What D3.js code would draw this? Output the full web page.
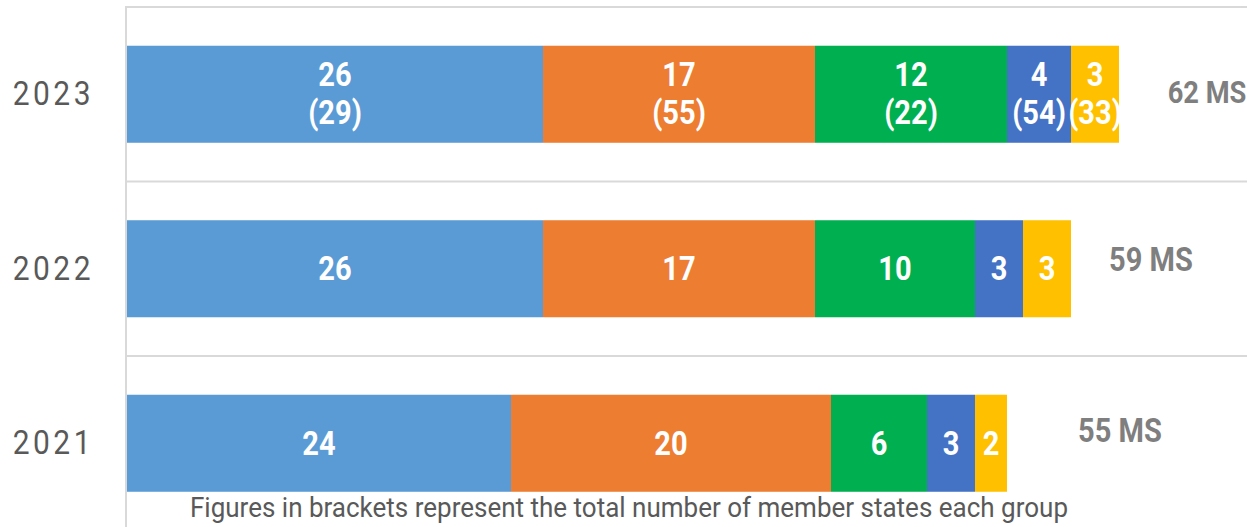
<!DOCTYPE html>
<html>
<head>
<meta charset="utf-8">
<script src="https://cdn.jsdelivr.net/npm/d3@7"></script>
<style>
	body { margin: 0; background: #fff; }
	svg { display: block; }
	text { font-family: Roboto, "Open Sans", sans-serif; }
</style>
</head>
<body>
<div id="chart"></div>
<script>
// Data
var years = ["2023", "2022", "2021"];
var counts2023 = [26, 17, 12, 4, 3];
var counts2022 = [26, 17, 10, 3, 3];
var counts2021 = [24, 20, 6, 3, 2];
var members2023 = [29, 55, 22, 54, 33];   // figures in brackets
var groupColors = ["#5B9BD5", "#ED7D31", "#00B050", "#4472C4", "#FFC000"];
var footnote = "Figures in brackets represent the total number of member states each group";

var rows = [
	{year: "2023", counts: counts2023, members: members2023},
	{year: "2022", counts: counts2022, members: null},
	{year: "2021", counts: counts2021, members: null}
];

// Layout only: where the "MS" total boxes sit relative to bar end / band centre
var msOffset = {"2023": [88, -3], "2022": [80, -9], "2021": [113, -13]};

var width = 1258, height = 527;
var condense = 0.88;   // stand-in for a condensed face

var svg = d3.select("#chart")
	.append("svg")
	.attr("width", width)
	.attr("height", height);

var x = d3.scaleLinear()
	.domain([0, 70])
	.range([127, 1247]);

var y = d3.scaleBand()
	.domain(years)
	.range([7, 7 + 174.5 * 3])
	.paddingInner(0.444)
	.paddingOuter(0.222);

// horizontal band separators
var step = y.step();
svg.append("g")
	.selectAll("line")
	.data(years)
	.join("line")
	.attr("x1", x(0))
	.attr("x2", x(70))
	.attr("y1", d => y(d) - y.paddingOuter() * step)
	.attr("y2", d => y(d) - y.paddingOuter() * step)
	.attr("stroke", "#d9d9d9")
	.attr("stroke-width", 2);

// stacked segments
var stacked = rows.map(r => {
	let acc = 0;
	return r.counts.map((v, i) => {
		let seg = {year: r.year, i: i, v: v, x0: acc, x1: acc + v,
			m: r.members ? r.members[i] : null};
		acc += v;
		return seg;
	});
});
var segs = stacked.flat();

svg.append("g")
	.selectAll("rect")
	.data(segs)
	.join("rect")
	.attr("x", d => x(d.x0))
	.attr("width", d => x(d.x1) - x(d.x0))
	.attr("y", d => y(d.year))
	.attr("height", y.bandwidth())
	.attr("fill", d => groupColors[d.i]);

// vertical axis line
svg.append("line")
	.attr("x1", x(0) - 1).attr("x2", x(0) - 1)
	.attr("y1", 6).attr("y2", height)
	.attr("stroke", "#d9d9d9")
	.attr("stroke-width", 2);

// segment labels
var labelG = svg.append("g")
	.selectAll("g")
	.data(segs)
	.join("g")
	.attr("transform", d => `translate(${(x(d.x0) + x(d.x1)) / 2}, ${y(d.year) + y.bandwidth() / 2}) scale(${condense},1)`);

labelG.append("text")
	.attr("text-anchor", "middle")
	.attr("y", d => d.m != null ? -8 : 11.5)
	.attr("fill", "#fff")
	.attr("font-weight", "bold")
	.attr("font-size", 33)
	.text(d => d.v);

labelG.filter(d => d.m != null)
	.append("text")
	.attr("text-anchor", "middle")
	.attr("y", 30)
	.attr("fill", "#fff")
	.attr("font-weight", "bold")
	.attr("font-size", 33)
	.text(d => `(${d.m})`);

// year labels
svg.append("g")
	.selectAll("text")
	.data(years)
	.join("text")
	.attr("transform", d => `translate(94, ${y(d) + y.bandwidth() / 2 + 11}) scale(${condense},1)`)
	.attr("text-anchor", "end")
	.attr("fill", "#595959")
	.attr("font-size", 34)
	.attr("font-weight", 400)
	.attr("letter-spacing", 4)
	.text(d => d);

// totals
svg.append("g")
	.selectAll("text")
	.data(rows)
	.join("text")
	.attr("transform", d => {
		let tot = d3.sum(d.counts);
		let o = msOffset[d.year];
		return `translate(${x(tot) + o[0]}, ${y(d.year) + y.bandwidth() / 2 + o[1] + 11.5}) scale(${condense},1)`;
	})
	.attr("text-anchor", "middle")
	.attr("fill", "#7F7F7F")
	.attr("font-weight", "bold")
	.attr("font-size", d => d.year == "2023" ? 31 : 33)
	.text(d => d3.sum(d.counts) + " MS");

// footnote
svg.append("text")
	.attr("x", 190)
	.attr("y", 517)
	.attr("fill", "#595959")
	.attr("font-size", 27)
	.attr("textLength", 878)
	.attr("lengthAdjust", "spacingAndGlyphs")
	.text(footnote);
</script>
</body>
</html>
